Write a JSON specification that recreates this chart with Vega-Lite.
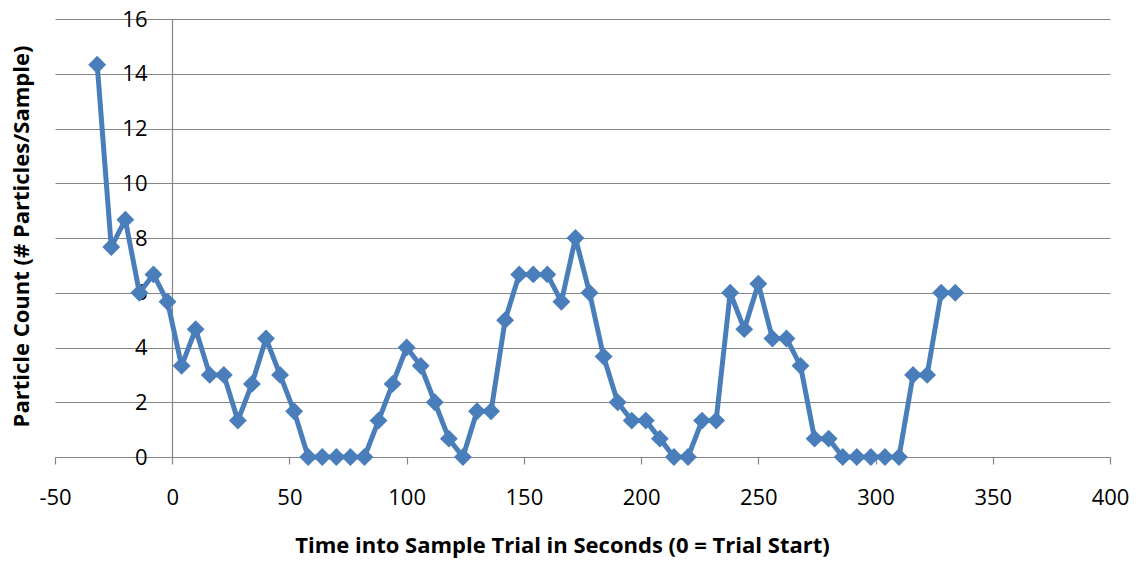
{
  "$schema": "https://vega.github.io/schema/vega-lite/v6.json",
  "width": 1055,
  "height": 438,
  "autosize": {"type": "none"},
  "padding": {"left": 55, "top": 19, "right": 28, "bottom": 105},
  "background": "white",
  "config": {
    "view": {"stroke": null},
    "font": "Open Sans",
    "axis": {"labelFont": "Open Sans", "titleFont": "Open Sans", "labelColor": "#000000", "titleColor": "#000000"}
  },
  "data": {
    "values": [
      {"t": -32, "count": 14.33}, {"t": -26, "count": 7.67}, {"t": -20, "count": 8.67},
      {"t": -14, "count": 6}, {"t": -8, "count": 6.67}, {"t": -2, "count": 5.67},
      {"t": 4, "count": 3.33}, {"t": 10, "count": 4.67}, {"t": 16, "count": 3},
      {"t": 22, "count": 3}, {"t": 28, "count": 1.33}, {"t": 34, "count": 2.67},
      {"t": 40, "count": 4.33}, {"t": 46, "count": 3}, {"t": 52, "count": 1.67},
      {"t": 58, "count": 0}, {"t": 64, "count": 0}, {"t": 70, "count": 0},
      {"t": 76, "count": 0}, {"t": 82, "count": 0}, {"t": 88, "count": 1.33},
      {"t": 94, "count": 2.67}, {"t": 100, "count": 4}, {"t": 106, "count": 3.33},
      {"t": 112, "count": 2}, {"t": 118, "count": 0.67}, {"t": 124, "count": 0},
      {"t": 130, "count": 1.67}, {"t": 136, "count": 1.67}, {"t": 142, "count": 5},
      {"t": 148, "count": 6.67}, {"t": 154, "count": 6.67}, {"t": 160, "count": 6.67},
      {"t": 166, "count": 5.67}, {"t": 172, "count": 8}, {"t": 178, "count": 6},
      {"t": 184, "count": 3.67}, {"t": 190, "count": 2}, {"t": 196, "count": 1.33},
      {"t": 202, "count": 1.33}, {"t": 208, "count": 0.67}, {"t": 214, "count": 0},
      {"t": 220, "count": 0}, {"t": 226, "count": 1.33}, {"t": 232, "count": 1.33},
      {"t": 238, "count": 6}, {"t": 244, "count": 4.67}, {"t": 250, "count": 6.33},
      {"t": 256, "count": 4.33}, {"t": 262, "count": 4.33}, {"t": 268, "count": 3.33},
      {"t": 274, "count": 0.67}, {"t": 280, "count": 0.67}, {"t": 286, "count": 0},
      {"t": 292, "count": 0}, {"t": 298, "count": 0}, {"t": 304, "count": 0},
      {"t": 310, "count": 0}, {"t": 316, "count": 3}, {"t": 322, "count": 3},
      {"t": 328, "count": 6}, {"t": 334, "count": 6}
    ]
  },
  "mark": {
    "type": "line",
    "color": "#4A7EBB",
    "strokeWidth": 5,
    "strokeJoin": "round",
    "point": {"filled": true, "shape": "diamond", "size": 320, "color": "#4A7EBB"}
  },
  "encoding": {
    "x": {
      "field": "t",
      "type": "quantitative",
      "scale": {"domain": [-50, 400], "nice": false, "zero": false},
      "axis": {
        "values": [-50, 0, 50, 100, 150, 200, 250, 300, 350, 400],
        "labelExpr": "toString(datum.value)",
        "grid": false,
        "domainColor": "#868686",
        "domainWidth": 1.2,
        "tickColor": "#868686",
        "tickWidth": 1.2,
        "tickSize": 7,
        "labelFontSize": 22,
        "labelPadding": 23,
        "labelFlush": false,
        "title": "Time into Sample Trial in Seconds (0 = Trial Start)",
        "titleFontSize": 22,
        "titleFontWeight": "bold",
        "titleX": 507,
        "titleY": 88,
        "titleBaseline": "middle",
        "titleAlign": "center",
        "titleAnchor": null
      }
    },
    "y": {
      "field": "count",
      "type": "quantitative",
      "scale": {"domain": [0, 16], "nice": false},
      "axis": {
        "values": [0, 2, 4, 6, 8, 10, 12, 14, 16],
        "offset": -117,
        "grid": true,
        "gridColor": "#868686",
        "gridWidth": 1.2,
        "domainColor": "#868686",
        "domainWidth": 1.2,
        "ticks": false,
        "labelFontSize": 22,
        "labelPadding": 25,
        "labelFlush": false,
        "title": "Particle Count (# Particles/Sample)",
        "titleFontSize": 22,
        "titleFontWeight": "bold",
        "titleAngle": -90,
        "titleX": -151,
        "titleY": 217,
        "titleBaseline": "middle",
        "titleAlign": "center",
        "titleAnchor": null
      }
    }
  }
}
